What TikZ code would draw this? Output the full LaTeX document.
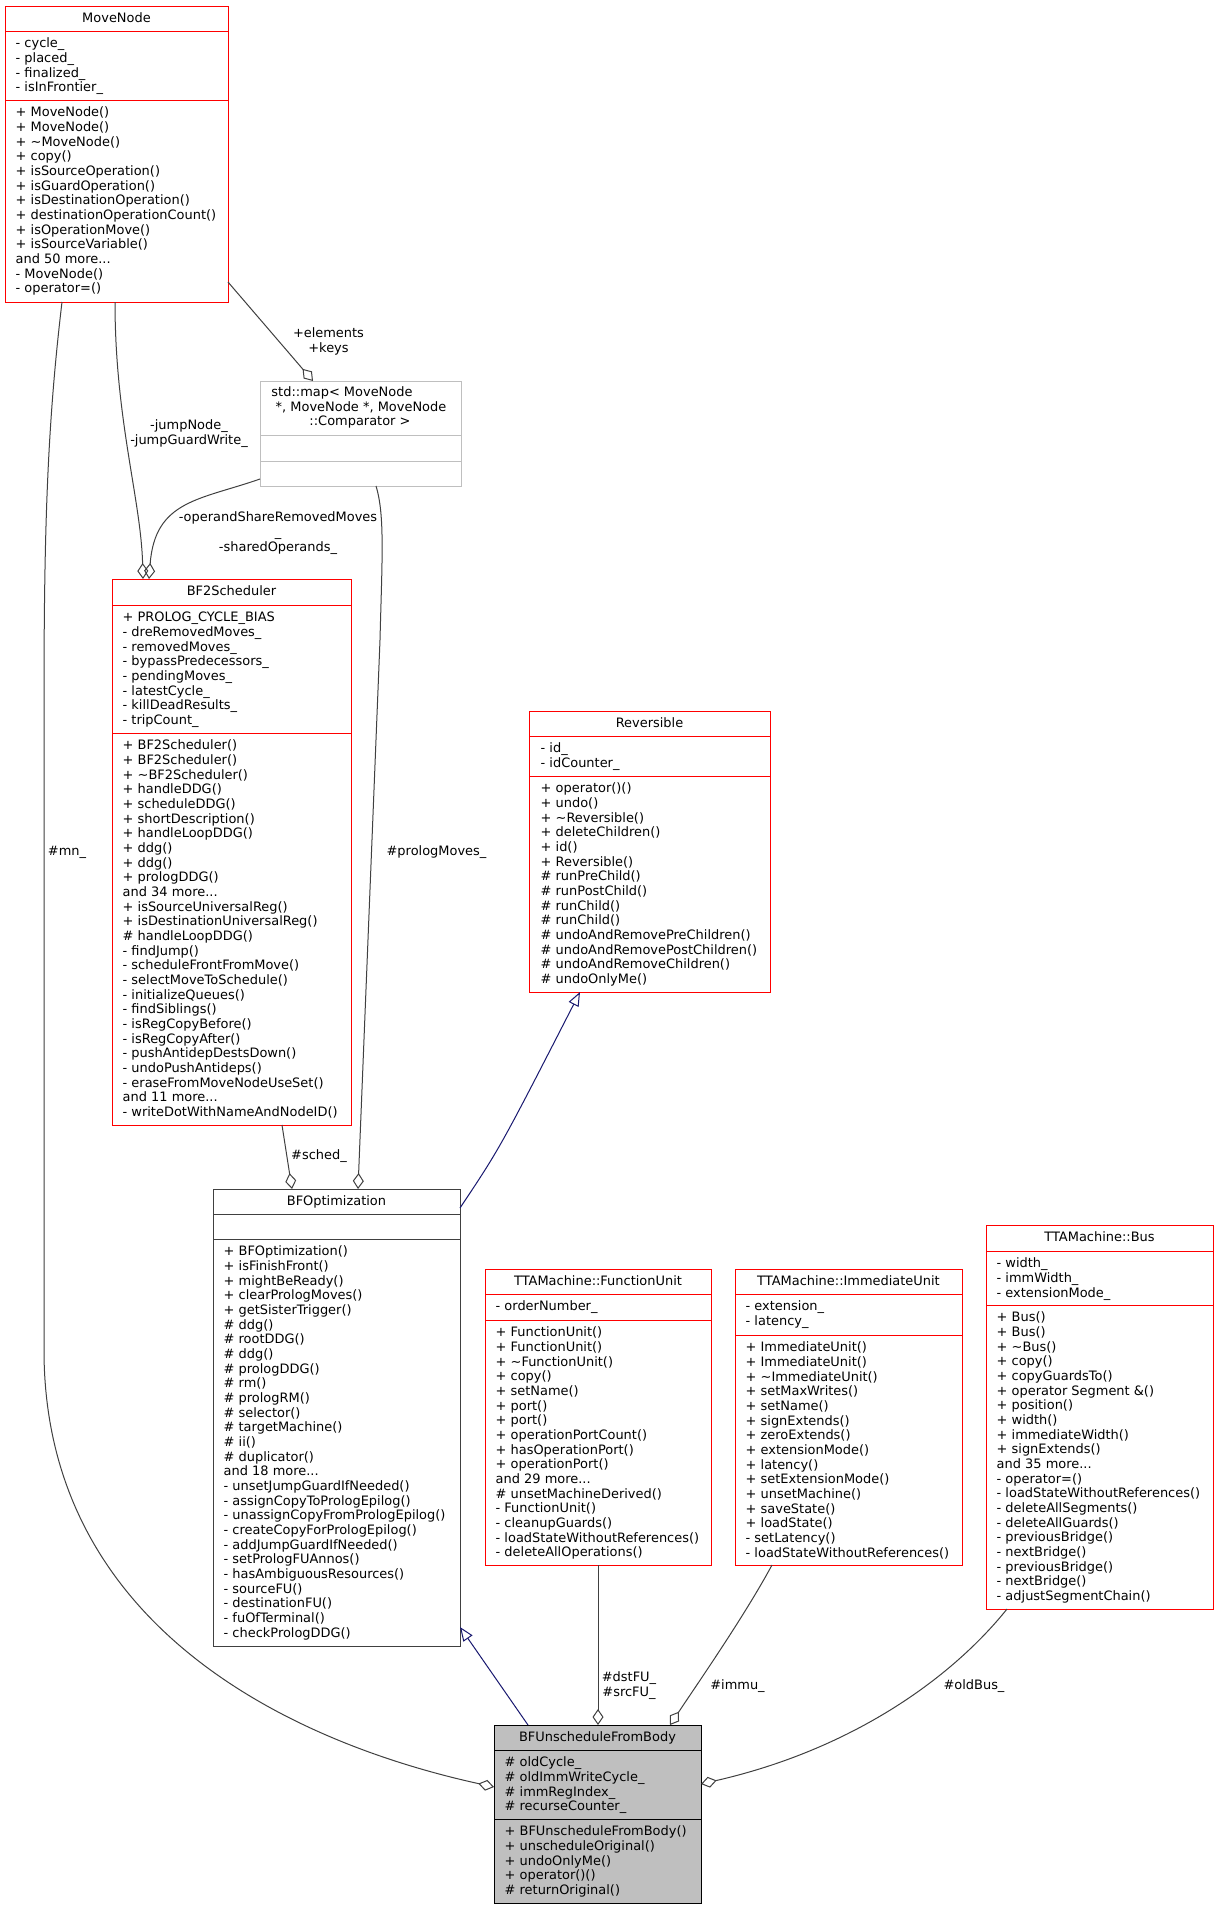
\documentclass[tikz,border=0pt]{standalone}
\usepackage{fontspec}
\setmainfont{DejaVu Sans}
\usetikzlibrary{arrows.meta}
\definecolor{edgegray}{HTML}{404040}
\definecolor{inhblue}{HTML}{191970}
\definecolor{mapgray}{HTML}{BFBFBF}
\definecolor{boxred}{HTML}{FF0000}
\definecolor{fillgray}{HTML}{BFBFBF}
\newcommand\fl{\rule{0pt}{11pt}}
\newcommand\fsz{\fontsize{12.95}{14.67}\selectfont}
\begin{document}
\begin{tikzpicture}[x=1pt,y=-1pt,
  cls/.style={draw, line width=1pt, inner sep=0pt, outer sep=0pt, anchor=north west, rectangle},
  redcls/.style={cls, draw=boxred},
  sepred/.style={draw=boxred, line width=1pt},
  txt/.style={anchor=north west, align=left, inner sep=0pt, font=\fsz},
  ttl/.style={anchor=base, inner sep=0pt, font=\fsz},
  lbl/.style={anchor=north, align=center, inner sep=0pt, font=\fsz},
  assoc/.style={draw=edgegray, line width=1pt, -{Diamond[open, length=16pt, width=11pt, line width=1pt]}},
  inh/.style={draw=inhblue, line width=1pt, -{Triangle[open, length=14pt, width=11pt, line width=1pt]}}
]
\fill[white] (0,0) rectangle (1218,1909);
\useasboundingbox (0,0) rectangle (1218,1909);

% ---------- MoveNode
\node[redcls, minimum width=223pt, minimum height=296pt] (movenode) at (5,6) {};
\draw[sepred] (5,31) -- (228,31);
\draw[sepred] (5,100) -- (228,100);
\node[ttl] (movenode-t) at (116.5,22.5) {MoveNode};
\node[txt] (movenode-a) at (15.5,36.5) {\fl- cycle\_\\- placed\_\\- finalized\_\\- isInFrontier\_};
\node[txt] (movenode-m) at (15.5,105.5) {\fl+ MoveNode()\\+ MoveNode()\\+ \textasciitilde MoveNode()\\+ copy()\\+ isSourceOperation()\\+ isGuardOperation()\\+ isDestinationOperation()\\+ destinationOperationCount()\\+ isOperationMove()\\+ isSourceVariable()\\and 50 more...\\- MoveNode()\\- operator=()};

% ---------- std::map
\node[cls, draw=mapgray, minimum width=201pt, minimum height=105pt] (map) at (260,381) {};
\draw[mapgray, line width=1pt] (260,435) -- (461,435);
\draw[mapgray, line width=1pt] (260,461) -- (461,461);
\node[ttl] (map-t1) at (342,396.5) {std::map< MoveNode};
\node[ttl] (map-t2) at (361,411.2) {*, MoveNode *, MoveNode};
\node[ttl] (map-t3) at (360,425.8) {::Comparator >};

% ---------- BF2Scheduler
\node[redcls, minimum width=239pt, minimum height=546pt] (bf2) at (112,579) {};
\draw[sepred] (112,605) -- (351,605);
\draw[sepred] (112,733) -- (351,733);
\node[ttl] (bf2-t) at (231.5,595.5) {BF2Scheduler};
\node[txt] (bf2-a) at (122.5,610.5) {\fl+ PROLOG\_CYCLE\_BIAS\\- dreRemovedMoves\_\\- removedMoves\_\\- bypassPredecessors\_\\- pendingMoves\_\\- latestCycle\_\\- killDeadResults\_\\- tripCount\_};
\node[txt] (bf2-m) at (122.5,738.5) {\fl+ BF2Scheduler()\\+ BF2Scheduler()\\+ \textasciitilde BF2Scheduler()\\+ handleDDG()\\+ scheduleDDG()\\+ shortDescription()\\+ handleLoopDDG()\\+ ddg()\\+ ddg()\\+ prologDDG()\\and 34 more...\\+ isSourceUniversalReg()\\+ isDestinationUniversalReg()\\\# handleLoopDDG()\\- findJump()\\- scheduleFrontFromMove()\\- selectMoveToSchedule()\\- initializeQueues()\\- findSiblings()\\- isRegCopyBefore()\\- isRegCopyAfter()\\- pushAntidepDestsDown()\\- undoPushAntideps()\\- eraseFromMoveNodeUseSet()\\and 11 more...\\- writeDotWithNameAndNodeID()};

% ---------- Reversible
\node[redcls, minimum width=241pt, minimum height=281pt] (rev) at (529,711) {};
\draw[sepred] (529,736) -- (770,736);
\draw[sepred] (529,776) -- (770,776);
\node[ttl] (rev-t) at (649.5,727.5) {Reversible};
\node[txt] (rev-a) at (540.5,741.5) {\fl- id\_\\- idCounter\_};
\node[txt] (rev-m) at (540.5,781.5) {\fl+ operator()()\\+ undo()\\+ \textasciitilde Reversible()\\+ deleteChildren()\\+ id()\\+ Reversible()\\\# runPreChild()\\\# runPostChild()\\\# runChild()\\\# runChild()\\\# undoAndRemovePreChildren()\\\# undoAndRemovePostChildren()\\\# undoAndRemoveChildren()\\\# undoOnlyMe()};

% ---------- BFOptimization
\node[cls, draw=edgegray, minimum width=247pt, minimum height=457pt] (bfopt) at (213,1189) {};
\draw[edgegray, line width=1pt] (213,1214) -- (460,1214);
\draw[edgegray, line width=1pt] (213,1239) -- (460,1239);
\node[ttl] (bfopt-t) at (336.5,1205.5) {BFOptimization};
\node[txt] (bfopt-m) at (223.5,1244.5) {\fl+ BFOptimization()\\+ isFinishFront()\\+ mightBeReady()\\+ clearPrologMoves()\\+ getSisterTrigger()\\\# ddg()\\\# rootDDG()\\\# ddg()\\\# prologDDG()\\\# rm()\\\# prologRM()\\\# selector()\\\# targetMachine()\\\# ii()\\\# duplicator()\\and 18 more...\\- unsetJumpGuardIfNeeded()\\- assignCopyToPrologEpilog()\\- unassignCopyFromPrologEpilog()\\- createCopyForPrologEpilog()\\- addJumpGuardIfNeeded()\\- setPrologFUAnnos()\\- hasAmbiguousResources()\\- sourceFU()\\- destinationFU()\\- fuOfTerminal()\\- checkPrologDDG()};

% ---------- TTAMachine::FunctionUnit
\node[redcls, minimum width=226pt, minimum height=296pt] (fu) at (485,1269) {};
\draw[sepred] (485,1294) -- (711,1294);
\draw[sepred] (485,1320) -- (711,1320);
\node[ttl] (fu-t) at (598,1285.5) {TTAMachine::FunctionUnit};
\node[txt] (fu-a) at (495.5,1299.5) {\fl- orderNumber\_};
\node[txt] (fu-m) at (495.5,1325.5) {\fl+ FunctionUnit()\\+ FunctionUnit()\\+ \textasciitilde FunctionUnit()\\+ copy()\\+ setName()\\+ port()\\+ port()\\+ operationPortCount()\\+ hasOperationPort()\\+ operationPort()\\and 29 more...\\\# unsetMachineDerived()\\- FunctionUnit()\\- cleanupGuards()\\- loadStateWithoutReferences()\\- deleteAllOperations()};

% ---------- TTAMachine::ImmediateUnit
\node[redcls, minimum width=227pt, minimum height=296pt] (iu) at (735,1269) {};
\draw[sepred] (735,1294) -- (962,1294);
\draw[sepred] (735,1335) -- (962,1335);
\node[ttl] (iu-t) at (848.5,1285.5) {TTAMachine::ImmediateUnit};
\node[txt] (iu-a) at (745.5,1299.5) {\fl- extension\_\\- latency\_};
\node[txt] (iu-m) at (745.5,1340.5) {\fl+ ImmediateUnit()\\+ ImmediateUnit()\\+ \textasciitilde ImmediateUnit()\\+ setMaxWrites()\\+ setName()\\+ signExtends()\\+ zeroExtends()\\+ extensionMode()\\+ latency()\\+ setExtensionMode()\\+ unsetMachine()\\+ saveState()\\+ loadState()\\- setLatency()\\- loadStateWithoutReferences()};

% ---------- TTAMachine::Bus
\node[redcls, minimum width=227pt, minimum height=384pt] (bus) at (986,1225) {};
\draw[sepred] (986,1251) -- (1213,1251);
\draw[sepred] (986,1305) -- (1213,1305);
\node[ttl] (bus-t) at (1099.5,1241.5) {TTAMachine::Bus};
\node[txt] (bus-a) at (996.5,1256.5) {\fl- width\_\\- immWidth\_\\- extensionMode\_};
\node[txt] (bus-m) at (996.5,1310.5) {\fl+ Bus()\\+ Bus()\\+ \textasciitilde Bus()\\+ copy()\\+ copyGuardsTo()\\+ operator Segment \&()\\+ position()\\+ width()\\+ immediateWidth()\\+ signExtends()\\and 35 more...\\- operator=()\\- loadStateWithoutReferences()\\- deleteAllSegments()\\- deleteAllGuards()\\- previousBridge()\\- nextBridge()\\- previousBridge()\\- nextBridge()\\- adjustSegmentChain()};

% ---------- BFUnscheduleFromBody
\node[cls, draw=black, fill=fillgray, minimum width=207pt, minimum height=178pt] (bfu) at (494,1725) {};
\draw[black, line width=1pt] (494,1750) -- (701,1750);
\draw[black, line width=1pt] (494,1819) -- (701,1819);
\node[ttl] (bfu-t) at (597.5,1741.5) {BFUnscheduleFromBody};
\node[txt] (bfu-a) at (504.5,1755.5) {\fl\# oldCycle\_\\\# oldImmWriteCycle\_\\\# immRegIndex\_\\\# recurseCounter\_};
\node[txt] (bfu-m) at (504.5,1824.5) {\fl+ BFUnscheduleFromBody()\\+ unscheduleOriginal()\\+ undoOnlyMe()\\+ operator()()\\\# returnOriginal()};

% ---------- connectors
% #mn_
\draw[assoc] ([xshift=57pt]movenode.south west) .. controls (48,420) and (44,520) .. (44,700) -- (44,1350) .. controls (44,1620) and (280,1740) .. ([yshift=27pt]bfu.west);
\node[lbl] (l-mn) at (67,844) {\fl\#mn\_};
% jumpNode
\draw[assoc] ([xshift=110pt]movenode.south west) .. controls (115,420) and (141,500) .. ([xshift=31pt]bf2.north west);
\node[lbl] (l-jump) at (189,418.5) {\fl-jumpNode\_\\-jumpGuardWrite\_};
% operandShare
\draw[assoc] ([yshift=-45.5pt]map.west) .. controls (200,500) and (155,500) .. ([xshift=37pt]bf2.north west);
\node[lbl] (l-oper) at (278,510.5) {\fl-operandShareRemovedMoves\\\_\\-sharedOperands\_};
% elements/keys
\draw[assoc] ([yshift=-128pt]movenode.east) -- ([xshift=53pt]map.north west);
\node[lbl] (l-elem) at (328.5,326.5) {\fl+elements\\+keys};
% prologMoves
\draw[assoc] ([xshift=116pt]map.south west) .. controls (385,515) and (382,560) .. (380,640) -- ([xshift=145pt]bfopt.north west);
\node[lbl] (l-prolog) at (436.5,844) {\fl\#prologMoves\_};
% sched
\draw[assoc] ([xshift=170pt]bf2.south west) -- ([xshift=79pt]bfopt.north west);
\node[lbl] (l-sched) at (319,1148) {\fl\#sched\_};
% inheritance BFOptimization -> Reversible
\draw[inh] ([yshift=-19pt]bfopt.north east) .. controls (500,1148) .. ([xshift=51pt]rev.south west);
% inheritance BFUnscheduleFromBody -> BFOptimization
\draw[inh] ([xshift=34pt]bfu.north west) -- ([yshift=-209.5pt]bfopt.east);
% dstFU / srcFU
\draw[assoc] ([xshift=113pt]fu.south west) -- ([xshift=104pt]bfu.north west);
\node[lbl] (l-fu) at (629,1670.5) {\fl\#dstFU\_\\\#srcFU\_};
% immu
\draw[assoc] ([xshift=37pt]iu.south west) .. controls (745,1615) and (700,1680) .. ([xshift=176pt]bfu.north west);
\node[lbl] (l-immu) at (737.5,1678) {\fl\#immu\_};
% oldBus
\draw[assoc] ([xshift=21pt]bus.south west) .. controls (950,1680) and (850,1750) .. ([yshift=30pt]bfu.east);
\node[lbl] (l-bus) at (974,1678) {\fl\#oldBus\_};
\end{tikzpicture}
\end{document}
